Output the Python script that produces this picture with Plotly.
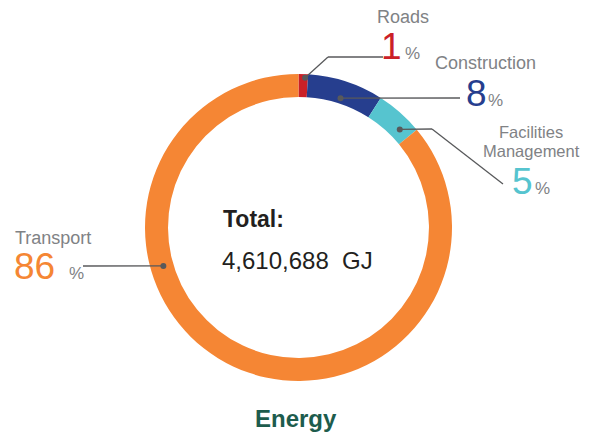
import math
import plotly.graph_objects as go

# ---- data ----
categories = ["Roads", "Construction", "Facilities Management", "Transport"]
shares = [1, 8, 5, 86]
colors = ["#CB2027", "#263E8E", "#56C4CF", "#F58634"]
total_label = "Total:"
total_value = "4,610,688  GJ"
title_text = "Energy"

# page body has an 8px margin: the figure starts at (8, 8) in the window
OFF = 8
W, H = 593 - OFF, 437 - OFF
CX, CY, R_OUT = 298.5, 227.5, 153.5   # window pixel coordinates
HOLE = 0.85

def px(x):
    return (x - OFF) / W

def py(y):
    return 1 - (y - OFF) / H

fig = go.Figure(go.Pie(
    values=shares,
    labels=categories,
    marker=dict(colors=colors, line=dict(width=0)),
    hole=HOLE,
    sort=False,
    direction="clockwise",
    rotation=0,
    textinfo="none",
    hoverinfo="skip",
    showlegend=False,
    domain=dict(x=[px(CX - R_OUT), px(CX + R_OUT)], y=[py(CY + R_OUT), py(CY - R_OUT)]),
))

FONT = "Liberation Sans, Arial, sans-serif"
GRAY = "#808285"
LINE = "#58595B"

# leader layout: (fraction within slice, radius of dot, path points after dot)
leaders = [
    (0.7, 150, [(328, 57), (383, 57)]),
    (0.5, 136, [(460, 98)]),
    (0.75, 141, [(432, 129), (503, 184)]),
    (0.658, 140.5, [(83, 266)]),
]

tot = sum(shares)
cum = 0
shapes = []
for (f, r, path), v in zip(leaders, shares):
    a = math.radians(360 * (cum + f * v) / tot)
    cum += v
    dx, dy = CX + r * math.sin(a), CY - r * math.cos(a)
    pts = [(dx, dy)] + path
    for (x0, y0), (x1, y1) in zip(pts[:-1], pts[1:]):
        shapes.append(dict(type="line", xref="paper", yref="paper",
                           x0=px(x0), y0=py(y0), x1=px(x1), y1=py(y1),
                           line=dict(color=LINE, width=1.3)))
    rr = 3
    shapes.append(dict(type="circle", xref="paper", yref="paper",
                       x0=px(dx - rr), x1=px(dx + rr), y0=py(dy + rr), y1=py(dy - rr),
                       fillcolor=LINE, line=dict(width=0)))

annotations = []

def text(t, x, baseline, size, color, anchor="center", bold=False, pad=1):
    y = baseline + 0.212 * size + pad
    annotations.append(dict(
        text=f"<b>{t}</b>" if bold else t, x=px(x), y=py(y), xref="paper", yref="paper",
        xanchor=anchor, yanchor="bottom", showarrow=False, borderpad=pad,
        font=dict(family=FONT, size=size, color=color)))

# category labels
text("Roads", 403, 24, 18, GRAY)
text("Construction", 485.5, 70, 18, GRAY)
text("Facilities", 531, 138.5, 16.5, GRAY, pad=0)
text("Management", 531, 157.5, 16.5, GRAY, pad=0)
text("Transport", 53, 245, 18, GRAY)

# percentages
pct_pos = [(391.5, 412.5, 60), (476.5, 495.5, 107), (522, 542, 195), (34, 76.5, 280)]
for v, c, (xn, xp_, base) in zip(shares, colors, pct_pos):
    text(str(v), xn, base, 37, c)
    text("%", xp_, base, 17, GRAY)

# center text
text(total_label, 221, 228, 23, "#231F20", anchor="left", bold=True)
text(total_value, 220, 270, 24, "#231F20", anchor="left")

# title
text(title_text, 296, 428, 24, "#1D5C4D", bold=True)

fig.update_layout(
    width=W, height=H,
    margin=dict(l=0, r=0, t=0, b=0),
    paper_bgcolor="white", plot_bgcolor="white",
    shapes=shapes, annotations=annotations,
)

fig.write_html("out.html")
